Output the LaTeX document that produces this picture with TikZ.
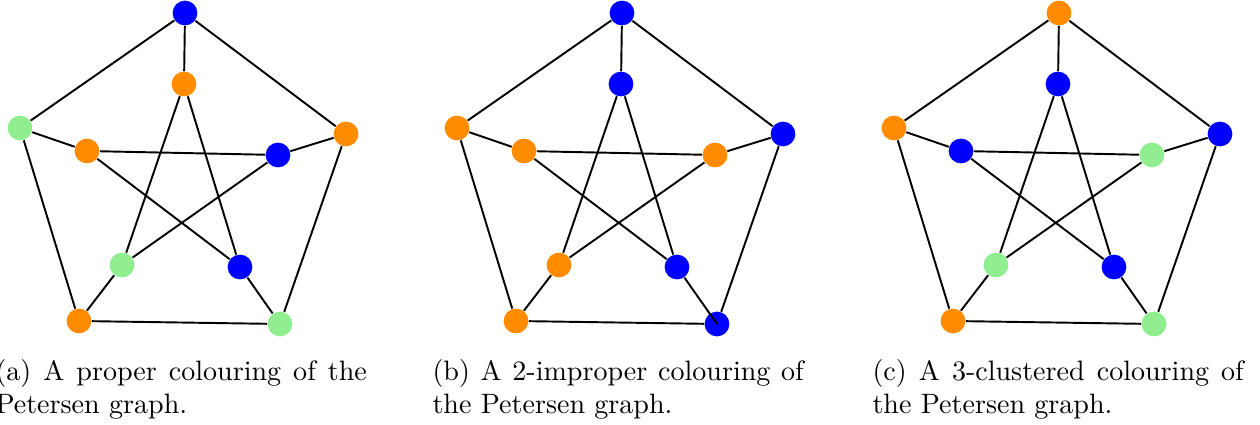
\documentclass[tikz,border=0pt]{standalone}
\definecolor{vblue}{RGB}{0,0,255}
\definecolor{vorange}{RGB}{255,140,0}
\definecolor{vgreen}{RGB}{144,238,144}
\begin{document}
\begin{tikzpicture}[x=0.3636pt, y=-0.3636pt,
  vertex/.style={circle, inner sep=0pt, minimum size=9pt},
  edge/.style={line width=0.7pt},
  subcap/.style={anchor=base west, inner sep=0pt, text width=135pt, align=justify,
    font=\fontsize{10.2pt}{12pt}\selectfont}]
\useasboundingbox (0,0) rectangle (1260,425);
% (a) proper colouring
\begin{scope}
\node[vertex, fill=vblue]   (ao1) at (185,13) {};
\node[vertex, fill=vgreen]  (ao2) at (20,128) {};
\node[vertex, fill=vorange] (ao3) at (346,134) {};
\node[vertex, fill=vorange] (ao4) at (79,321) {};
\node[vertex, fill=vgreen]  (ao5) at (280,324) {};
\node[vertex, fill=vorange] (ai1) at (184,84) {};
\node[vertex, fill=vorange] (ai2) at (87,151) {};
\node[vertex, fill=vblue]   (ai3) at (278,155) {};
\node[vertex, fill=vgreen]  (ai4) at (122,265) {};
\node[vertex, fill=vblue]   (ai5) at (240,267) {};
\draw[edge] (ao1) -- (ao2) -- (ao4) -- (ao5) -- (ao3) -- (ao1);
\draw[edge] (ao1) -- (ai1) (ao2) -- (ai2) (ao3) -- (ai3) (ao4) -- (ai4) (ao5) -- (ai5);
\draw[edge] (ai1) -- (ai4) (ai1) -- (ai5) (ai2) -- (ai3) (ai2) -- (ai5) (ai3) -- (ai4);
\end{scope}
% (b) 2-improper colouring
\begin{scope}[shift={(437,0)}]
\node[vertex, fill=vblue]   (bo1) at (185,13) {};
\node[vertex, fill=vorange] (bo2) at (20,128) {};
\node[vertex, fill=vblue]   (bo3) at (346,134) {};
\node[vertex, fill=vorange] (bo4) at (79,321) {};
\node[vertex, fill=vblue]   (bo5) at (280,324) {};
\node[vertex, fill=vblue]   (bi1) at (184,84) {};
\node[vertex, fill=vorange] (bi2) at (87,151) {};
\node[vertex, fill=vorange] (bi3) at (278,155) {};
\node[vertex, fill=vorange] (bi4) at (122,265) {};
\node[vertex, fill=vblue]   (bi5) at (240,267) {};
\draw[edge] (bo1) -- (bo2) -- (bo4) -- (bo5) -- (bo3) -- (bo1);
\draw[edge] (bo1) -- (bi1) (bo2) -- (bi2) (bo3) -- (bi3) (bo4) -- (bi4);
\draw[edge] (bi1) -- (bi4) (bi1) -- (bi5) (bi2) -- (bi3) (bi2) -- (bi5) (bi3) -- (bi4);
\draw[edge] (bi5) -- (bo5.center);
\end{scope}
% (c) 3-clustered colouring
\begin{scope}[shift={(874,0)}]
\node[vertex, fill=vorange] (co1) at (185,13) {};
\node[vertex, fill=vorange] (co2) at (20,128) {};
\node[vertex, fill=vblue]   (co3) at (346,134) {};
\node[vertex, fill=vorange] (co4) at (79,321) {};
\node[vertex, fill=vgreen]  (co5) at (280,324) {};
\node[vertex, fill=vblue]   (ci1) at (184,84) {};
\node[vertex, fill=vblue]   (ci2) at (87,151) {};
\node[vertex, fill=vgreen]  (ci3) at (278,155) {};
\node[vertex, fill=vgreen]  (ci4) at (122,265) {};
\node[vertex, fill=vblue]   (ci5) at (240,267) {};
\draw[edge] (co1) -- (co2) -- (co4) -- (co5) -- (co3) -- (co1);
\draw[edge] (co1) -- (ci1) (co2) -- (ci2) (co3) -- (ci3) (co4) -- (ci4) (co5) -- (ci5);
\draw[edge] (ci1) -- (ci4) (ci1) -- (ci5) (ci2) -- (ci3) (ci2) -- (ci5) (ci3) -- (ci4);
\end{scope}
% captions
\node[subcap] (capa) at (-5,381) {(a) A proper colouring of the Petersen graph.};
\node[subcap] (capb) at (432,381) {(b) A 2-improper colouring of the Petersen graph.};
\node[subcap] (capc) at (872,381) {(c) A 3-clustered colouring of the Petersen graph.};
\end{tikzpicture}
\end{document}
